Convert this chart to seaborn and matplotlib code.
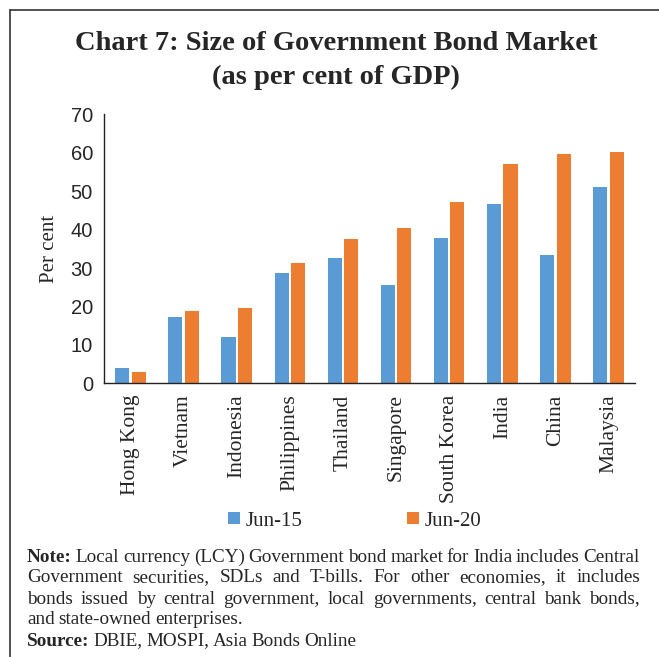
import pandas as pd
import numpy as np
import matplotlib.pyplot as plt
import seaborn as sns
from matplotlib.lines import Line2D
from matplotlib.patches import Patch

# data
countries = ['Hong Kong', 'Vietnam', 'Indonesia', 'Philippines', 'Thailand',
             'Singapore', 'South Korea', 'India', 'China', 'Malaysia']
jun15 = [3.9, 17.3, 12.1, 28.6, 32.5, 25.5, 37.7, 46.6, 33.3, 51.2]
jun20 = [3.0, 18.8, 19.7, 31.2, 37.5, 40.3, 47.1, 57.0, 59.6, 60.3]
series = ['Jun-15', 'Jun-20']
yticks = [0, 10, 20, 30, 40, 50, 60, 70]

df = pd.DataFrame({'country': countries * 2,
                   'period': [series[0]] * len(countries) + [series[1]] * len(countries),
                   'value': jun15 + jun20})

palette = {'Jun-15': '#5B9BD5', 'Jun-20': '#ED7D31'}
serif = 'Liberation Serif'
sans = 'Liberation Sans'

sns.set_style('white')
plt.rcParams['font.family'] = [serif, 'DejaVu Serif']

W, H = 659, 657
fig = plt.figure(figsize=(W / 100, H / 100), dpi=100)
ax = fig.add_axes([104 / W, 1 - 383.3 / H, (635 - 104) / W, (383.3 - 114.3) / H])

sns.barplot(data=df, x='country', y='value', hue='period', order=countries,
            hue_order=series, palette=palette, width=0.62, gap=0.14,
            saturation=1, legend=False, ax=ax, edgecolor='none')

ax.set_ylim(0, 70)
ax.set_xlim(-0.5, len(countries) - 0.5)
ax.set_yticks(yticks)
ax.set_yticklabels([str(t) for t in yticks], fontfamily=sans, fontsize=14.5)
ax.set_xticks(range(len(countries)))
ax.set_xticklabels(countries, rotation=90, fontsize=15.5, va='top')
ax.set_xticks(np.arange(-0.5, len(countries), 1), minor=True)
ax.tick_params(axis='x', which='major', length=0, pad=8)
ax.tick_params(axis='x', which='minor', length=5, width=1, direction='out', color='#222222')
ax.tick_params(axis='y', length=5, width=1, direction='out', color='#222222', pad=3)
ax.set_xlabel('')
ax.set_ylabel('Per cent', fontsize=15, labelpad=8)
sns.despine(ax=ax)
for s in ['left', 'bottom']:
    ax.spines[s].set_color('#222222')
    ax.spines[s].set_linewidth(1)

# title
fig.text(336 / W, 1 - 44 / H, 'Chart 7: Size of Government Bond Market',
         ha='center', va='center', fontsize=20.5, fontweight='bold')
fig.text(336 / W, 1 - 77 / H, '(as per cent of GDP)',
         ha='center', va='center', fontsize=20.5, fontweight='bold')

# legend
handles = [Patch(facecolor=palette[s], edgecolor='none') for s in series]
fig.legend(handles, series, loc='center', bbox_to_anchor=(355 / W, 1 - 521 / H),
           ncol=2, frameon=False, fontsize=15, handlelength=0.55, handleheight=0.55,
           handletextpad=0.3, columnspacing=5.0)

# frame lines (top and left)
fig.add_artist(Line2D([10 / W, 1], [1 - 10 / H, 1 - 10 / H], color='#333333', lw=1.2,
                      transform=fig.transFigure))
fig.add_artist(Line2D([10 / W, 10 / W], [0, 1 - 10 / H], color='#333333', lw=1.2,
                      transform=fig.transFigure))

# justified note text
note_lines = [
    [('Note:', 'bold')] + [(w, 'normal') for w in
        'Local currency (LCY) Government bond market for India includes Central'.split()],
    [(w, 'normal') for w in
        'Government securities, SDLs and T-bills. For other economies, it includes'.split()],
    [(w, 'normal') for w in
        'bonds issued by central government, local governments, central bank bonds,'.split()],
    [(w, 'normal') for w in 'and state-owned enterprises.'.split()],
    [('Source:', 'bold')] + [(w, 'normal') for w in 'DBIE, MOSPI, Asia Bonds Online'.split()],
]
justify = [True, True, True, False, False]
line_y = [557, 578, 599, 620, 641]
x_left, x_right = 27, 640
fs_note = 13.8
renderer = fig.canvas.get_renderer()
for words, just, y in zip(note_lines, justify, line_y):
    texts = [fig.text(0, 1 - y / H, w, fontsize=fs_note, fontweight=wt, va='center')
             for w, wt in words]
    widths = [t.get_window_extent(renderer).width for t in texts]
    if just:
        space = (x_right - x_left - sum(widths)) / (len(words) - 1)
    else:
        space = 3.8
    x = x_left
    for t, wd in zip(texts, widths):
        t.set_x(x / W)
        x += wd + space

fig.savefig('out.png', dpi=100)
